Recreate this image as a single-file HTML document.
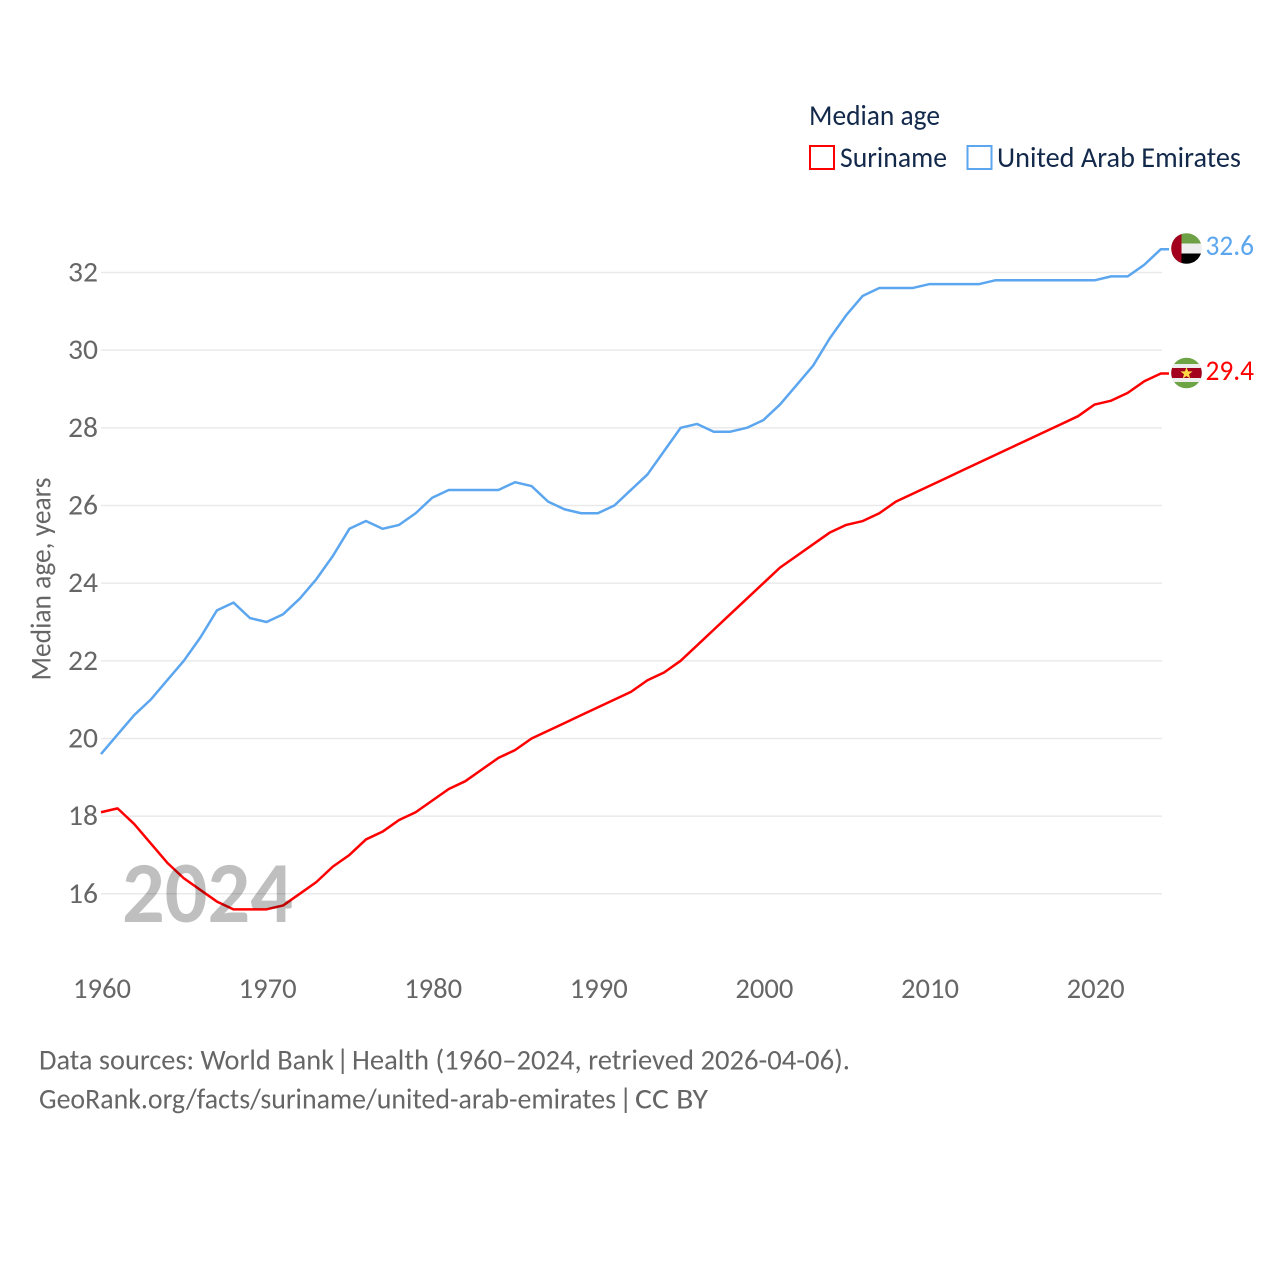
<!DOCTYPE html>
<html lang="en">
<head>
<meta charset="utf-8">
<title>Median age: Suriname and United Arab Emirates</title>
<style>
html,body{margin:0;padding:0;background:#fff;width:1280px;height:1280px;overflow:hidden}
svg{display:block}
text{font-family:"Carlito","Lato","Liberation Sans",sans-serif}
</style>
</head>
<body>
<svg id="chart" xmlns="http://www.w3.org/2000/svg" width="1280" height="1280" viewBox="0 0 1280 1280">
  <rect width="1280" height="1280" fill="#fff"/>
  <g id="grid"></g>
  <g id="yticks"></g>
  <g id="xticks"></g>
  <text transform="translate(50.500,579) rotate(-90)" text-anchor="middle" font-size="29" fill="#666" textLength="203" lengthAdjust="spacingAndGlyphs">Median age, years</text>

  <g id="series"></g>

  <text x="122" y="922" font-size="87" font-weight="700" fill="#000" fill-opacity="0.25" textLength="171" lengthAdjust="spacingAndGlyphs">2024</text>

  <g>
    <text x="809" y="125" font-size="29" fill="#13294b" textLength="131" lengthAdjust="spacingAndGlyphs">Median age</text>
    <g>
      <rect x="810" y="146" width="24" height="23" fill="#fff" stroke="#ff0000" stroke-width="2"/>
      <text x="840" y="167" font-size="29" fill="#13294b" textLength="107" lengthAdjust="spacingAndGlyphs">Suriname</text>
    </g>
    <g>
      <rect x="967.500" y="146" width="24" height="23" fill="#fff" stroke="#5ba6ef" stroke-width="2"/>
      <text x="997" y="167" font-size="29" fill="#13294b" textLength="244" lengthAdjust="spacingAndGlyphs">United Arab Emirates</text>
    </g>
  </g>

  <defs>
    <clipPath id="flag-clip-uae"><circle cx="1186.500" cy="248.500" r="15.300"/></clipPath>
    <clipPath id="flag-clip-sr"><circle cx="1186.500" cy="373" r="15.300"/></clipPath>
  </defs>
  <g id="flag-uae" clip-path="url(#flag-clip-uae)">
    <rect x="1171" y="232" width="31" height="11.500" fill="#6ea045"/>
    <rect x="1171" y="243.500" width="31" height="10" fill="#eeeeee"/>
    <rect x="1171" y="253.500" width="31" height="11" fill="#000"/>
    <rect x="1171" y="232" width="10.500" height="33" fill="#a2001d"/>
  </g>
  <g id="flag-sr" clip-path="url(#flag-clip-sr)">
    <rect x="1171" y="357" width="31" height="32" fill="#6da544"/>
    <rect x="1171" y="364" width="31" height="18" fill="#eeeeee"/>
    <rect x="1171" y="368" width="31" height="10" fill="#a2001d"/>
    <polygon points="1186.500,367 1188.100,371.400 1192.600,371.400 1189,374.200 1190.300,378.600 1186.500,376 1182.700,378.600 1184,374.200 1180.400,371.400 1184.900,371.400" fill="#ffda44"/>
  </g>
  <text x="1205.500" y="255" font-size="29" fill="#5ba6ef" textLength="48.500" lengthAdjust="spacingAndGlyphs">32.6</text>
  <text x="1205.500" y="380" font-size="29" fill="#ff0000" textLength="48.500" lengthAdjust="spacingAndGlyphs">29.4</text>

  <g>
    <text y="1069.500" font-size="29" fill="#666"><tspan x="39" textLength="295" lengthAdjust="spacingAndGlyphs">Data sources: World Bank</tspan><tspan x="336">|</tspan><tspan x="352" textLength="498" lengthAdjust="spacingAndGlyphs">Health (1960–2024, retrieved 2026-04-06).</tspan></text>
    <text y="1108.500" font-size="29" fill="#666"><tspan x="39" textLength="577" lengthAdjust="spacingAndGlyphs">GeoRank.org/facts/suriname/united-arab-emirates</tspan><tspan x="619">|</tspan><tspan x="635" textLength="73" lengthAdjust="spacingAndGlyphs">CC BY</tspan></text>
  </g>
</svg>
<script>
var years = [1960,1961,1962,1963,1964,1965,1966,1967,1968,1969,1970,1971,1972,1973,1974,1975,1976,1977,1978,1979,1980,1981,1982,1983,1984,1985,1986,1987,1988,1989,1990,1991,1992,1993,1994,1995,1996,1997,1998,1999,2000,2001,2002,2003,2004,2005,2006,2007,2008,2009,2010,2011,2012,2013,2014,2015,2016,2017,2018,2019,2020,2021,2022,2023,2024];
var suriname = [18.1,18.2,17.8,17.3,16.8,16.4,16.1,15.8,15.6,15.6,15.6,15.7,16.0,16.3,16.7,17.0,17.4,17.6,17.9,18.1,18.4,18.7,18.9,19.2,19.5,19.7,20.0,20.2,20.4,20.6,20.8,21.0,21.2,21.5,21.7,22.0,22.4,22.8,23.2,23.6,24.0,24.4,24.7,25.0,25.3,25.5,25.6,25.8,26.1,26.3,26.5,26.7,26.9,27.1,27.3,27.5,27.7,27.9,28.1,28.3,28.6,28.7,28.9,29.2,29.4];
var uae = [19.6,20.1,20.6,21.0,21.5,22.0,22.6,23.3,23.5,23.1,23.0,23.2,23.6,24.1,24.7,25.4,25.6,25.4,25.5,25.8,26.2,26.4,26.4,26.4,26.4,26.6,26.5,26.1,25.9,25.8,25.8,26.0,26.4,26.8,27.4,28.0,28.1,27.9,27.9,28.0,28.2,28.6,29.1,29.6,30.3,30.9,31.4,31.6,31.6,31.6,31.7,31.7,31.7,31.7,31.8,31.8,31.8,31.8,31.8,31.8,31.8,31.9,31.9,32.2,32.6];
var yTickValues = [16,18,20,22,24,26,28,30,32];
var xTickValues = [1960,1970,1980,1990,2000,2010,2020];

var NS = 'http://www.w3.org/2000/svg';
function xScale(year) { return 101 + (year - 1960) * 16.56; }
function yScale(value) { return 893.8 - (value - 16) * 38.83; }

function svgEl(tag, parentId) {
  var el = document.createElementNS(NS, tag);
  document.getElementById(parentId).appendChild(el);
  return el;
}

yTickValues.forEach(function (v) {
  var line = svgEl('line', 'grid');
  
  
  line.setAttribute('x1', 101);
  line.setAttribute('x2', 1162);
  line.setAttribute('y1', yScale(v));
  line.setAttribute('y2', yScale(v));
  line.setAttribute('stroke', '#e9e9e9');
  line.setAttribute('stroke-width', 1.5);

  var label = svgEl('text', 'yticks');
  
  
  label.setAttribute('x', 98);
  label.setAttribute('y', yScale(v) + 9);
  label.setAttribute('text-anchor', 'end');
  label.setAttribute('font-size', 29);
  label.setAttribute('fill', '#666');
  label.setAttribute('textLength', 30);
  label.setAttribute('lengthAdjust', 'spacingAndGlyphs');
  label.textContent = String(v);
});

xTickValues.forEach(function (v) {
  var label = svgEl('text', 'xticks');
  
  
  label.setAttribute('x', xScale(v) + 1);
  label.setAttribute('y', 998);
  label.setAttribute('text-anchor', 'middle');
  label.setAttribute('font-size', 29);
  label.setAttribute('fill', '#666');
  label.setAttribute('textLength', 58);
  label.setAttribute('lengthAdjust', 'spacingAndGlyphs');
  label.textContent = String(v);
});

function drawSeries(values, color, name) {
  var pts = values.map(function (v, i) { return xScale(years[i]).toFixed(2) + ',' + yScale(v).toFixed(2); });
  var lastY = yScale(values[values.length - 1]).toFixed(2);
  pts.push('1169,' + lastY);
  var line = svgEl('polyline', 'series');
  
  
  line.setAttribute('points', pts.join(' '));
  line.setAttribute('fill', 'none');
  line.setAttribute('stroke', color);
  line.setAttribute('stroke-width', 2.5);
  line.setAttribute('stroke-linejoin', 'round');
}

drawSeries(uae, '#5ba6ef', 'line-united-arab-emirates');
drawSeries(suriname, '#ff0000', 'line-suriname');
</script>
</body>
</html>
